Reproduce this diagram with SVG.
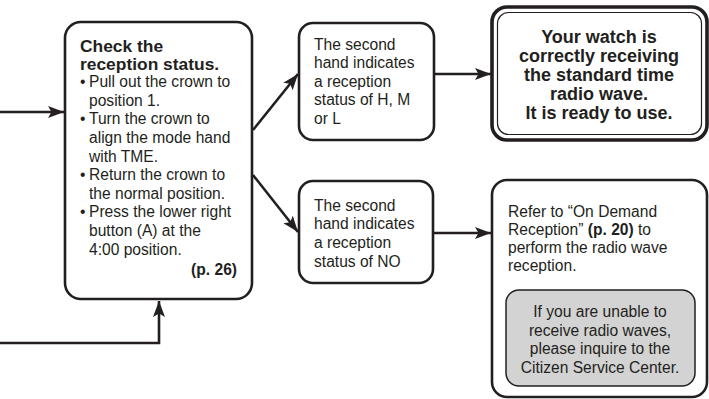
<svg xmlns="http://www.w3.org/2000/svg" width="709" height="399" viewBox="0 0 709 399">
<style>
.box{fill:#fff;stroke:#231f20;stroke-width:2.6}
.t{font-family:"Liberation Sans",Arial,sans-serif;font-size:15.6px;fill:#231f20}
.b{font-family:"Liberation Sans",Arial,sans-serif;font-size:18px;font-weight:bold;fill:#231f20}
.h{font-size:17.4px}
.bb{font-weight:bold}
.c{text-anchor:middle}
.conn{fill:none;stroke:#231f20;stroke-width:2.6}
</style>
<defs>
<marker id="ah" markerUnits="userSpaceOnUse" markerWidth="17" markerHeight="13" refX="16" refY="6.5" orient="auto">
<path d="M0,0.5 L16,6.5 L0,12.5 L3.5,6.5 z" fill="#231f20"/>
</marker>
</defs>
<rect width="709" height="399" fill="#fff"/>
<g id="connectors">
<line class="conn" x1="0" y1="112" x2="64" y2="112" marker-end="url(#ah)"/>
<polyline class="conn" points="0,343 159,343 159,301" marker-end="url(#ah)"/>
<line class="conn" x1="253" y1="130" x2="298" y2="74" marker-end="url(#ah)"/>
<line class="conn" x1="253" y1="175" x2="298" y2="232" marker-end="url(#ah)"/>
<line class="conn" x1="434" y1="74" x2="491" y2="74" marker-end="url(#ah)"/>
<line class="conn" x1="433" y1="233" x2="491" y2="233" marker-end="url(#ah)"/>
</g>
<g id="check">
<rect class="box" x="65" y="22" width="187" height="277" rx="16"/>
<text class="b h" x="80" y="52">Check the</text>
<text class="b h" x="80" y="70">reception status.</text>
<text class="t" x="80" y="87">•</text>
<text class="t" x="89" y="87">Pull out the crown to</text>
<text class="t" x="89" y="106">position 1.</text>
<text class="t" x="80" y="124">•</text>
<text class="t" x="89" y="124">Turn the crown to</text>
<text class="t" x="89" y="143">align the mode hand</text>
<text class="t" x="89" y="162">with TME.</text>
<text class="t" x="80" y="180">•</text>
<text class="t" x="89" y="180">Return the crown to</text>
<text class="t" x="89" y="199">the normal position.</text>
<text class="t" x="80" y="217">•</text>
<text class="t" x="89" y="217">Press the lower right</text>
<text class="t" x="89" y="236">button (A) at the</text>
<text class="t" x="89" y="255">4:00 position.</text>
<text class="t bb" x="237" y="275" text-anchor="end">(p. 26)</text>
</g>
<g id="hml">
<rect class="box" x="299" y="23" width="135" height="117" rx="14"/>
<text class="t" x="314" y="50">The second</text>
<text class="t" x="314" y="68">hand indicates</text>
<text class="t" x="314" y="87">a reception</text>
<text class="t" x="314" y="105">status of H, M</text>
<text class="t" x="314" y="124">or L</text>
</g>
<g id="no">
<rect class="box" x="299" y="181" width="134" height="102" rx="14"/>
<text class="t" x="314" y="211">The second</text>
<text class="t" x="314" y="229">hand indicates</text>
<text class="t" x="314" y="248">a reception</text>
<text class="t" x="314" y="267">status of NO</text>
</g>
<g id="ready">
<rect x="492" y="7" width="215" height="133" rx="15" fill="#fff" stroke="#231f20" stroke-width="3.6"/>
<rect x="497.5" y="12.5" width="204" height="122" rx="11" fill="none" stroke="#231f20" stroke-width="1.2"/>
<text class="b c" x="599" y="43">Your watch is</text>
<text class="b c" x="599" y="62">correctly receiving</text>
<text class="b c" x="599" y="81">the standard time</text>
<text class="b c" x="599" y="100">radio wave.</text>
<text class="b c" x="599" y="119">It is ready to use.</text>
</g>
<g id="refer">
<rect class="box" x="492" y="180" width="215" height="217" rx="15"/>
<text class="t" x="508" y="217">Refer to “On Demand</text>
<text class="t" x="508" y="235">Reception” <tspan class="bb">(p. 20)</tspan> to</text>
<text class="t" x="508" y="253">perform the radio wave</text>
<text class="t" x="508" y="271">reception.</text>
</g>
<g id="service">
<rect x="506" y="290" width="189" height="96" rx="13" fill="#d3d3d3" stroke="#231f20" stroke-width="1.5"/>
<text class="t c" x="600" y="317">If you are unable to</text>
<text class="t c" x="600" y="336">receive radio waves,</text>
<text class="t c" x="600" y="354">please inquire to the</text>
<text class="t c" x="600" y="373">Citizen Service Center.</text>
</g>
</svg>
